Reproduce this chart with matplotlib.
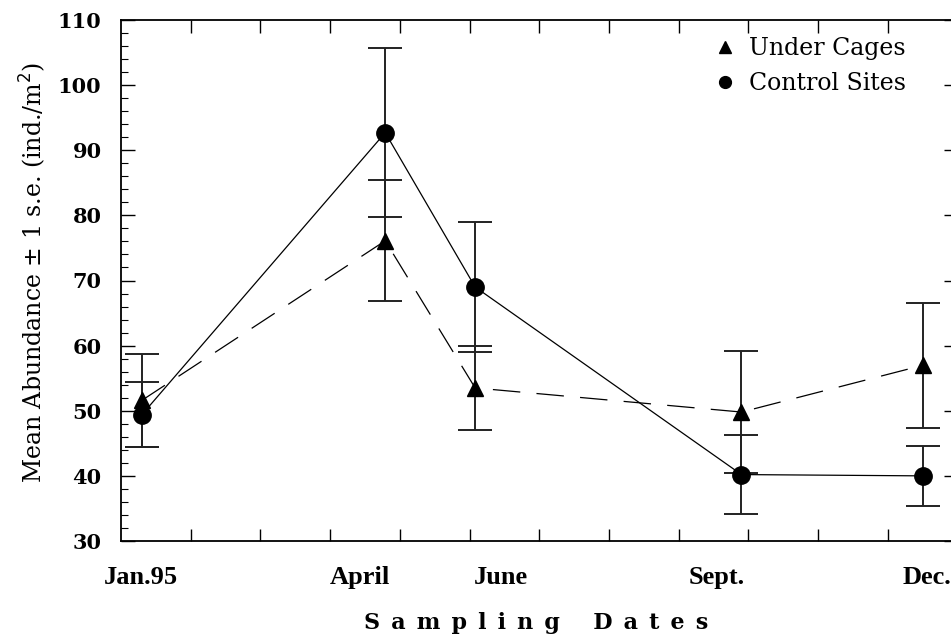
import matplotlib
matplotlib.use("Agg")
import matplotlib.pyplot as plt
from matplotlib.lines import Line2D
from matplotlib.ticker import MultipleLocator, FixedLocator

# ---- data (x in months from 1 Jan 1995) ----
dates_x = [0.30, 3.79, 5.08, 8.90, 11.51]
under_cages = [51.6, 76.1, 53.5, 49.8, 57.0]
under_cages_se = [7.1, 9.3, 6.4, 9.3, 9.6]
control_sites = [49.4, 92.7, 69.0, 40.2, 40.0]
control_sites_se = [5.0, 13.0, 10.0, 6.1, 4.6]

tick_label_pos = [0.29, 3.42, 5.45, 8.55, 11.56]
tick_labels = ["Jan.95", "April", "June", "Sept.", "Dec."]

TIMES = ["Liberation Serif", "DejaVu Serif"]
WIDE = ["DejaVu Serif", "Liberation Serif"]
plt.rcParams["font.family"] = TIMES

fig = plt.figure(figsize=(9.51, 6.39), dpi=100)
ax = fig.add_axes([121 / 951, 98 / 639, 836.6 / 951, 521 / 639])

ax.errorbar(dates_x, under_cages, yerr=under_cages_se, fmt="none",
            ecolor="#222222", elinewidth=1.4, capsize=12.5, capthick=1.4, zorder=2)
ax.errorbar(dates_x, control_sites, yerr=control_sites_se, fmt="none",
            ecolor="#222222", elinewidth=1.4, capsize=12.5, capthick=1.4, zorder=2)

ax.plot(dates_x, under_cages, color="black", lw=0.9, dashes=(22, 13),
        marker="^", markersize=11, markerfacecolor="black",
        markeredgecolor="black", zorder=3)
ax.plot(dates_x, control_sites, color="black", lw=0.9, linestyle="-",
        marker="o", markersize=12.5, markerfacecolor="black",
        markeredgecolor="black", zorder=3)

ax.set_xlim(0, 12)
ax.set_ylim(30, 110)

ax.xaxis.set_major_locator(FixedLocator(tick_label_pos))
ax.set_xticklabels(tick_labels, fontsize=19, fontweight="bold", family=TIMES)
ax.xaxis.set_minor_locator(FixedLocator(list(range(1, 12))))
ax.tick_params(axis="x", which="major", length=0, pad=18)
ax.tick_params(axis="x", which="minor", direction="in", length=9, width=1,
               top=True, bottom=True)

ax.yaxis.set_major_locator(MultipleLocator(10))
ax.yaxis.set_minor_locator(MultipleLocator(2))
ax.tick_params(axis="y", which="major", direction="in", length=10, width=1,
               left=True, right=True, pad=14)
ax.tick_params(axis="y", which="minor", direction="in", length=5, width=0.8,
               left=True, right=True)
for t in ax.get_yticklabels():
    t.set_fontweight("bold")
    t.set_family(WIDE)
    t.set_fontsize(15)

for s in ax.spines.values():
    s.set_linewidth(1.3)

ax.set_ylabel("Mean Abundance \u00b1 1 s.e. (ind./m$^2$)", fontsize=17,
              family=WIDE)
ax.yaxis.set_label_coords(-0.087, 0.516)

sep = "\u2002"
xl = (sep * 3).join(sep.join(w) for w in ["Sampling", "Dates"])
ax.set_xlabel(xl, fontsize=16, fontweight="bold", family=WIDE)
ax.xaxis.set_label_coords(0.496, -0.137)

handles = [
    Line2D([], [], linestyle="none", marker="^", markersize=8, color="black"),
    Line2D([], [], linestyle="none", marker="o", markersize=8.5, color="black"),
]
ax.legend(handles, ["Under Cages", "Control Sites"], loc="upper left",
          bbox_to_anchor=(0.682, 1.008), frameon=False,
          prop={"family": WIDE, "size": 17},
          handletextpad=0.55, labelspacing=0.5, handlelength=1.0)

fig.savefig("out.png", dpi=100)
